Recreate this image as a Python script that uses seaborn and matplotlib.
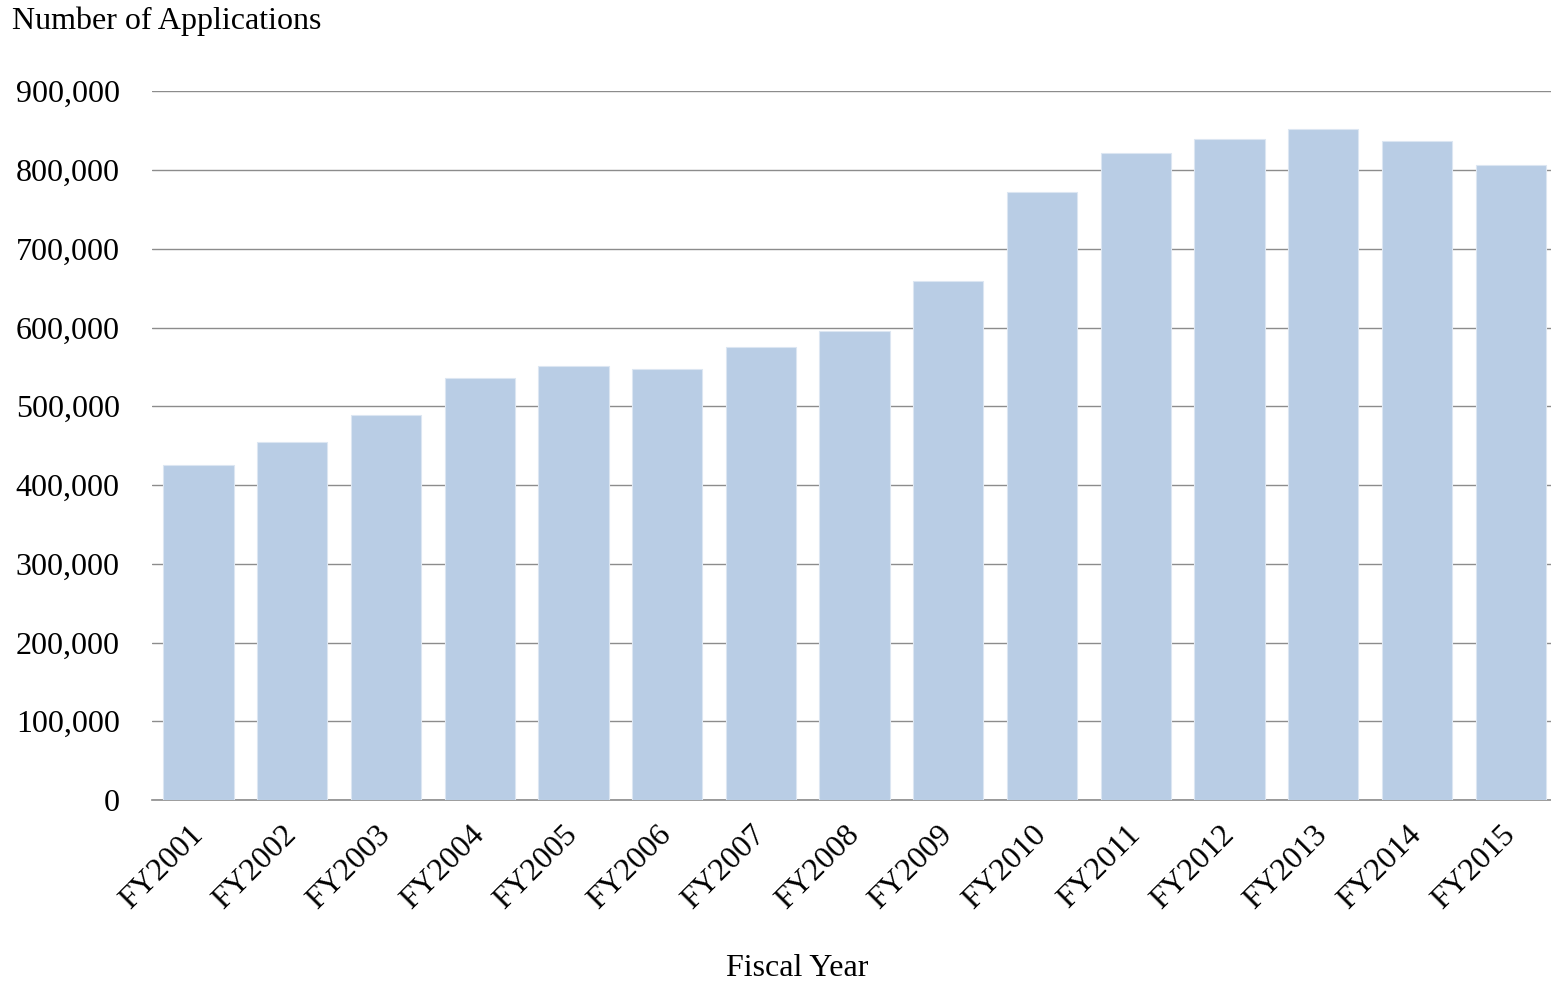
import matplotlib
matplotlib.use("Agg")
import matplotlib.pyplot as plt
import seaborn as sns
import pandas as pd
from matplotlib.ticker import FuncFormatter, MultipleLocator

fiscal_years = ["FY2001", "FY2002", "FY2003", "FY2004", "FY2005", "FY2006", "FY2007",
                "FY2008", "FY2009", "FY2010", "FY2011", "FY2012", "FY2013", "FY2014", "FY2015"]
applications = [425500, 454700, 489000, 536000, 551500, 547700, 574800,
                595200, 659000, 772100, 821200, 839700, 851700, 836400, 806000]

df = pd.DataFrame({"year": fiscal_years, "apps": applications})

sns.set_theme(style="white")
plt.rcParams["font.family"] = ["Liberation Serif", "DejaVu Serif"]

W, H = 1551, 985
fig = plt.figure(figsize=(W / 100, H / 100), dpi=100)
ax = fig.add_axes([151.6 / W, 1 - 800 / H, 1406 / W, (800 - 91.25) / H])

sns.barplot(data=df, x="year", y="apps", color="#B9CDE5", saturation=1,
            width=0.75, edgecolor="#DCE6F2", linewidth=0.8, ax=ax, zorder=3)

ax.set_ylim(0, 900000)
ax.set_xlim(-0.5, len(fiscal_years) - 0.5)
ax.yaxis.set_major_locator(MultipleLocator(100000))
ax.yaxis.set_major_formatter(FuncFormatter(lambda v, p: f"{int(v):,}"))
ax.grid(axis="y", color="#8C8C8C", linewidth=1.0, zorder=0)
ax.grid(axis="x", visible=False)
for side in ["top", "right", "left"]:
    ax.spines[side].set_visible(False)
ax.spines["bottom"].set_color("#8C8C8C")
ax.spines["bottom"].set_linewidth(1.2)
ax.tick_params(axis="y", length=0, pad=23, labelsize=23, labelcolor="black")
ax.tick_params(axis="x", length=0, pad=22, labelsize=23, labelcolor="black")
for lab in ax.get_xticklabels():
    lab.set_rotation(45)
    lab.set_ha("right")
    lab.set_va("center")
    lab.set_rotation_mode("anchor")
ax.set_xlabel("")
ax.set_ylabel("")

fig.text(12 / W, 1 - 21 / H, "Number of Applications", fontsize=23, color="black",
         ha="left", va="center")
fig.text(797 / W, 1 - 968 / H, "Fiscal Year", fontsize=23, color="black",
         ha="center", va="center")

fig.savefig("out.png", dpi=100)
